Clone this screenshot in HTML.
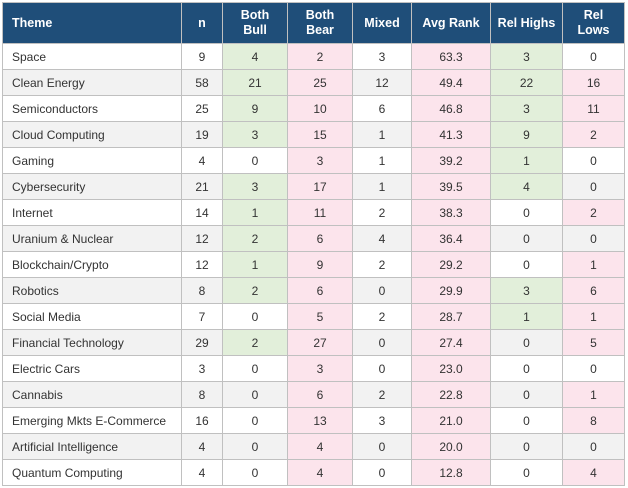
<!DOCTYPE html>
<html><head><style>
body{margin:0;background:#fff;width:628px;height:488px;overflow:hidden}
table{position:absolute;left:2px;top:2px;border-collapse:collapse;table-layout:fixed;font-family:"Liberation Sans",Arial,sans-serif;font-size:12px;color:#333}
td,th{border:1px solid #c0c0c0;padding:0;text-align:center;vertical-align:middle}
th{background:#1f4e79;color:#fff;font-weight:bold;height:40px;line-height:15px;font-size:12.5px}
tr{height:26px}
td{height:25px}
td:first-child,th:first-child{text-align:left;padding-left:9px}
tbody tr:nth-child(even) td{background:#f2f2f2}
tr td.g{background:#e2efda!important}
tr td.p{background:#fce4ec!important}
</style></head><body>
<table>
<colgroup><col style="width:179px"><col style="width:41px"><col style="width:65px"><col style="width:65px"><col style="width:59px"><col style="width:79px"><col style="width:72px"><col style="width:62px"></colgroup>
<thead><tr><th>Theme</th><th>n</th><th>Both<br>Bull</th><th>Both<br>Bear</th><th>Mixed</th><th>Avg Rank</th><th>Rel Highs</th><th>Rel<br>Lows</th></tr></thead>
<tbody>
<tr><td>Space</td><td>9</td><td class="g">4</td><td class="p">2</td><td>3</td><td class="p">63.3</td><td class="g">3</td><td>0</td></tr>
<tr><td>Clean Energy</td><td>58</td><td class="g">21</td><td class="p">25</td><td>12</td><td class="p">49.4</td><td class="g">22</td><td class="p">16</td></tr>
<tr><td>Semiconductors</td><td>25</td><td class="g">9</td><td class="p">10</td><td>6</td><td class="p">46.8</td><td class="g">3</td><td class="p">11</td></tr>
<tr><td>Cloud Computing</td><td>19</td><td class="g">3</td><td class="p">15</td><td>1</td><td class="p">41.3</td><td class="g">9</td><td class="p">2</td></tr>
<tr><td>Gaming</td><td>4</td><td>0</td><td class="p">3</td><td>1</td><td class="p">39.2</td><td class="g">1</td><td>0</td></tr>
<tr><td>Cybersecurity</td><td>21</td><td class="g">3</td><td class="p">17</td><td>1</td><td class="p">39.5</td><td class="g">4</td><td>0</td></tr>
<tr><td>Internet</td><td>14</td><td class="g">1</td><td class="p">11</td><td>2</td><td class="p">38.3</td><td>0</td><td class="p">2</td></tr>
<tr><td>Uranium &amp; Nuclear</td><td>12</td><td class="g">2</td><td class="p">6</td><td>4</td><td class="p">36.4</td><td>0</td><td>0</td></tr>
<tr><td>Blockchain/Crypto</td><td>12</td><td class="g">1</td><td class="p">9</td><td>2</td><td class="p">29.2</td><td>0</td><td class="p">1</td></tr>
<tr><td>Robotics</td><td>8</td><td class="g">2</td><td class="p">6</td><td>0</td><td class="p">29.9</td><td class="g">3</td><td class="p">6</td></tr>
<tr><td>Social Media</td><td>7</td><td>0</td><td class="p">5</td><td>2</td><td class="p">28.7</td><td class="g">1</td><td class="p">1</td></tr>
<tr><td>Financial Technology</td><td>29</td><td class="g">2</td><td class="p">27</td><td>0</td><td class="p">27.4</td><td>0</td><td class="p">5</td></tr>
<tr><td>Electric Cars</td><td>3</td><td>0</td><td class="p">3</td><td>0</td><td class="p">23.0</td><td>0</td><td>0</td></tr>
<tr><td>Cannabis</td><td>8</td><td>0</td><td class="p">6</td><td>2</td><td class="p">22.8</td><td>0</td><td class="p">1</td></tr>
<tr><td>Emerging Mkts E-Commerce</td><td>16</td><td>0</td><td class="p">13</td><td>3</td><td class="p">21.0</td><td>0</td><td class="p">8</td></tr>
<tr><td>Artificial Intelligence</td><td>4</td><td>0</td><td class="p">4</td><td>0</td><td class="p">20.0</td><td>0</td><td>0</td></tr>
<tr><td>Quantum Computing</td><td>4</td><td>0</td><td class="p">4</td><td>0</td><td class="p">12.8</td><td>0</td><td class="p">4</td></tr>
</tbody></table>
</body></html>
